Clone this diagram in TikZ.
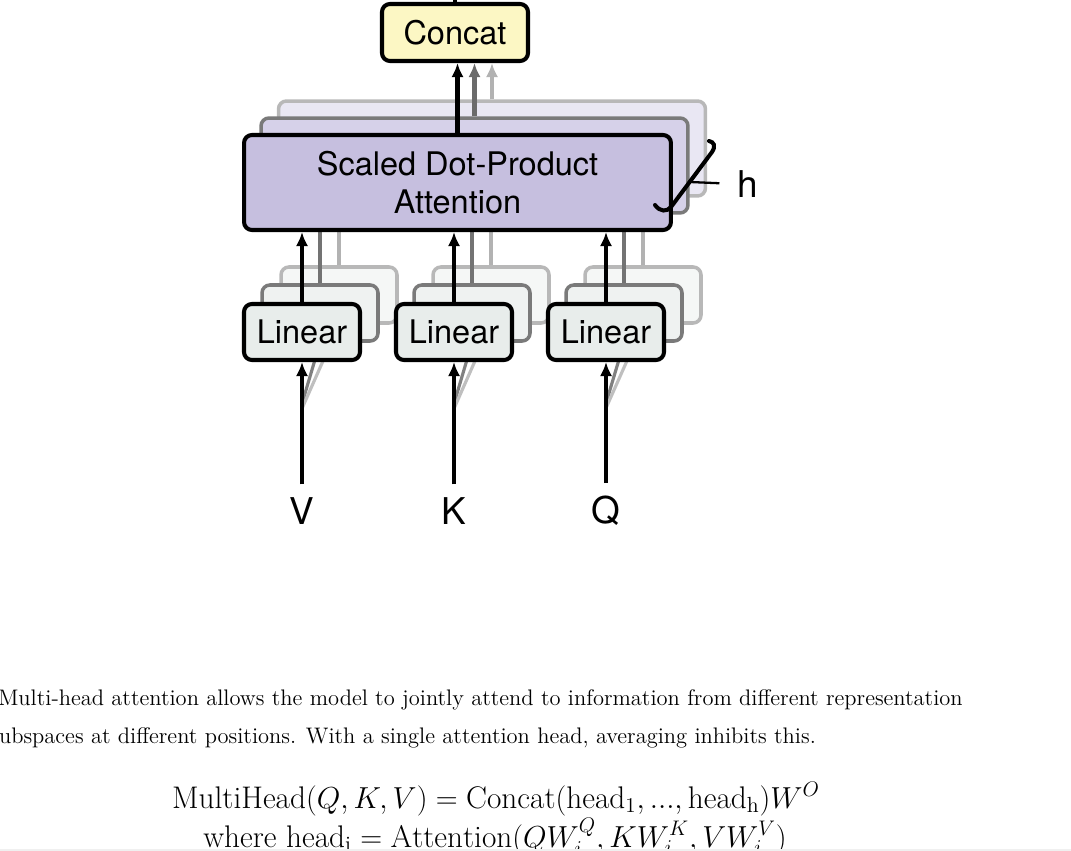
\documentclass[tikz,border=0pt]{standalone}
\usepackage{amsmath}
\usepackage{fontspec}
\setsansfont{TeX Gyre Heros}
\usetikzlibrary{arrows.meta, calc, positioning}
\definecolor{concatfill}{HTML}{FCF7C4}
\definecolor{attfill}{HTML}{C6BFDF}
\definecolor{attfillb}{HTML}{D6D1E9}
\definecolor{attfillc}{HTML}{E9E7F3}
\definecolor{linfill}{HTML}{E8EDEB}
\definecolor{linfillb}{HTML}{EFF2F1}
\definecolor{linfillc}{HTML}{F5F7F6}
\tikzset{
	box/.style = {draw, line width=2.3pt, rounded corners=4.5pt, align=center, inner sep=0pt,
		font=\sffamily\fontsize{18.5}{21.5}\selectfont},
	attbox/.style = {box, fill=attfill, minimum width=8.54cm, minimum height=1.9cm},
	linbox/.style = {box, fill=linfill, minimum width=2.32cm, minimum height=1.12cm},
	catbox/.style = {box, fill=concatfill, minimum width=2.92cm, minimum height=1.14cm},
	layerb/.style = {draw=black!52, line width=2pt},
	layerc/.style = {draw=black!28, line width=2pt},
	arr/.style = {line width=2.3pt, -{Latex[length=8pt,width=7pt]}},
	inp/.style = {font=\sffamily\fontsize{21}{24}\selectfont, inner sep=0pt, outer sep=7.5pt},
	txt/.style = {font=\fontsize{12.8}{15}\selectfont, text=black, inner sep=0pt},
	eqn/.style = {txt, font=\fontsize{17.8}{20}\selectfont, anchor=base}
}
\begin{document}
\begin{tikzpicture}[x=0.02cm, y=-0.02cm]
	\useasboundingbox (0,0) rectangle (1071,851);
	\clip (0,0) rectangle (1071,851);

	% third head (back)
	\node[attbox, layerc, fill=attfillc] (att3) at (492,148.5) {};
	\node[linbox, layerc, fill=linfillc] (lin1c) at (339,295) {};
	\node[linbox, layerc, fill=linfillc] (lin2c) at (491,295) {};
	\node[linbox, layerc, fill=linfillc] (lin3c) at (643,295) {};
	\foreach \c in {1,2,3}
		\draw[arr, black!30] (lin\c c) -- (lin\c c |- att3.south);

	% second head
	\node[attbox, layerb, fill=attfillb] (att2) at (474.5,165.5) {};
	\node[linbox, layerb, fill=linfillb] (lin1b) at (320,313) {};
	\node[linbox, layerb, fill=linfillb] (lin2b) at (472,313) {};
	\node[linbox, layerb, fill=linfillb] (lin3b) at (624,313) {};
	\foreach \c in {1,2,3}
		\draw[arr, black!55] (lin\c b) -- (lin\c b |- att2.south);

	% front head
	\node[attbox] (att) at (457.5,182.5) {Scaled Dot-Product\\Attention};
	\node[catbox] (concat) at (455,32.5) {Concat};
	\node[inp] (V) at (302,511) {V};
	\node[inp] (K) at (454,511) {K};
	\node[inp] (Q) at (606,511) {Q};
	\foreach \c/\l in {1/V,2/K,3/Q} {
		\draw[line width=1.8pt, black!50] ($(\l.north)!0.66!(\l.north |- 0,362)$) -- (lin\c b.south);
		\draw[line width=1.8pt, black!25] ($(\l.north)!0.62!(\l.north |- 0,362)$) -- (lin\c c.south);
	}
	\node[linbox] (lin1) at (302,332) {Linear};
	\node[linbox] (lin2) at (454,332) {Linear};
	\node[linbox] (lin3) at (606,332) {Linear};
	\foreach \c/\l in {1/V,2/K,3/Q} {
		\draw[arr] (\l) -- (lin\c);
		\draw[arr] (lin\c) -- (lin\c |- att.south);
	}

	% outputs into concat
	\draw[arr, black!30] (att3.north) -- (att3.north |- concat.south);
	\draw[arr, black!58] (att2.north) -- (att2.north |- concat.south);
	\draw[arr] (att.north) -- (att.north |- concat.south);
	\coordinate (out) at (455,-10);
	\draw[line width=2.3pt] (concat.north) -- (out);

	% h brace
	\coordinate (hk) at (690,182);
	\draw[line width=2.3pt, line cap=round] (655,205) .. controls (660,212) and (667,212) .. (671,207)
		-- (712,152) .. controls (716,146) and (714,142) .. (709,141);
	\node[inp, outer sep=0pt, anchor=west] (h) at (737,184) {h};
	\draw[line width=1.3pt, shorten >=10pt] (hk) -- (h.west);

	% text below
	\node[txt, anchor=base east] (para1) at (963,705)
		{Multi-head attention allows the model to jointly attend to information from different representation};
	\node[txt, anchor=base west] (para2) at (-10,743)
		{subspaces at different positions. With a single attention head, averaging inhibits this.};
	\node[eqn] (eq1) at (496,808)
		{$\mathrm{MultiHead}(Q,K,V) = \mathrm{Concat}(\mathrm{head}_1, ..., \mathrm{head}_\mathrm{h})W^O$};
	\node[eqn] (eq2) at (495,847)
		{$\mathrm{where\ head}_\mathrm{i} = \mathrm{Attention}(QW_i^Q, KW_i^K, VW_i^V)$};
	\fill[black!6] (0,849) rectangle (1071,851);
\end{tikzpicture}
\end{document}
